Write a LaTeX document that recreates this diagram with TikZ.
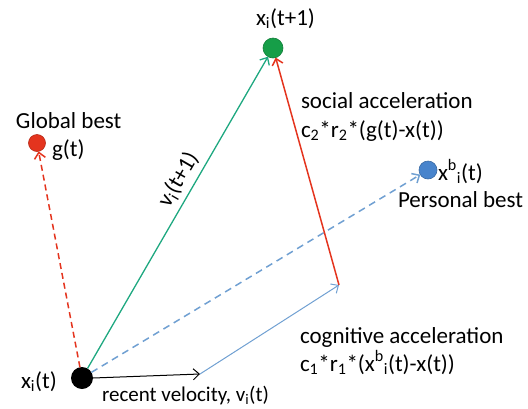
\documentclass[tikz,border=0pt]{standalone}
\usepackage{fontspec}
\setmainfont{Carlito}
\usetikzlibrary{arrows.meta}
\definecolor{gbestred}{RGB}{228,52,30}
\definecolor{xnewgreen}{RGB}{22,158,72}
\definecolor{vgreen}{RGB}{30,168,128}
\definecolor{pbestblue}{RGB}{72,132,204}
\definecolor{cogblue}{RGB}{112,160,210}
\begin{document}
\begin{tikzpicture}[x=1pt,y=-1pt,
  lbl/.style={inner sep=0pt,outer sep=0pt,anchor=base west,font=\fontsize{23}{27.6}\selectfont},
  dot/.style={circle,inner sep=0pt,outer sep=0pt,minimum size=#1},
  tip/.style={-{Straight Barb[length=6pt,width=11pt]}}]
\path[use as bounding box] (0,0) rectangle (528,408);
% positions
\node[dot=22pt,fill=black] (xi) at (82,378) {};
\node[dot=20pt,fill=xnewgreen,draw=xnewgreen!80!black,line width=0.6pt] (xnew) at (273,48) {};
\node[dot=17pt,fill=gbestred,draw=gbestred!80!black,line width=0.6pt] (gbest) at (37,143) {};
\node[dot=18pt,fill=pbestblue,draw=pbestblue!80!black,line width=0.6pt] (pbest) at (428,170) {};
\coordinate (vend) at (200,374);
\coordinate (cend) at (339,285);
% attractions
\draw[tip,gbestred,line width=1.5pt,dash pattern=on 6pt off 4pt] (xi) -- (gbest);
\draw[tip,cogblue,line width=1.5pt,dash pattern=on 7pt off 5pt] (xi) -- (pbest);
% velocity update
\draw[tip,black,line width=1pt] (xi.east) -- (vend);
\draw[tip,cogblue,line width=1pt] (vend) -- (cend);
\draw[tip,gbestred,line width=1.5pt] (cend) -- (xnew);
\draw[tip,vgreen,line width=1.3pt] (xi) -- (xnew)
  node[pos=.58,above=5pt,sloped,inner sep=0pt,text=black,font=\fontsize{23}{27.6}\selectfont] (vnew) {v\textsubscript{i}(t+1)};
% labels
\node[lbl] (xnewlbl) at (256,25) {x\textsubscript{i}(t+1)};
\node[lbl] (gbestlbl) at (16,128) {Global best};
\node[lbl] (gtlbl) at (52,156) {g(t)};
\node[lbl] (soclbl) at (301,108) {social acceleration};
\node[lbl] (socfrm) at (301,137) {c\textsubscript{2}*r\textsubscript{2}*(g(t)-x(t))};
\node[lbl] (pbestx) at (438,180) {x\textsuperscript{b}\textsubscript{i}(t)};
\node[lbl] (pbestlbl) at (398,207) {Personal best};
\node[lbl] (coglbl) at (300,343) {cognitive acceleration};
\node[lbl] (cogfrm) at (300,371) {c\textsubscript{1}*r\textsubscript{1}*(x\textsuperscript{b}\textsubscript{i}(t)-x(t))};
\node[lbl] (xilbl) at (21,388) {x\textsubscript{i}(t)};
\node[lbl,font=\fontsize{21}{25.2}\selectfont] (vlbl) at (102,401) {recent velocity, v\textsubscript{i}(t)};
\end{tikzpicture}
\end{document}
